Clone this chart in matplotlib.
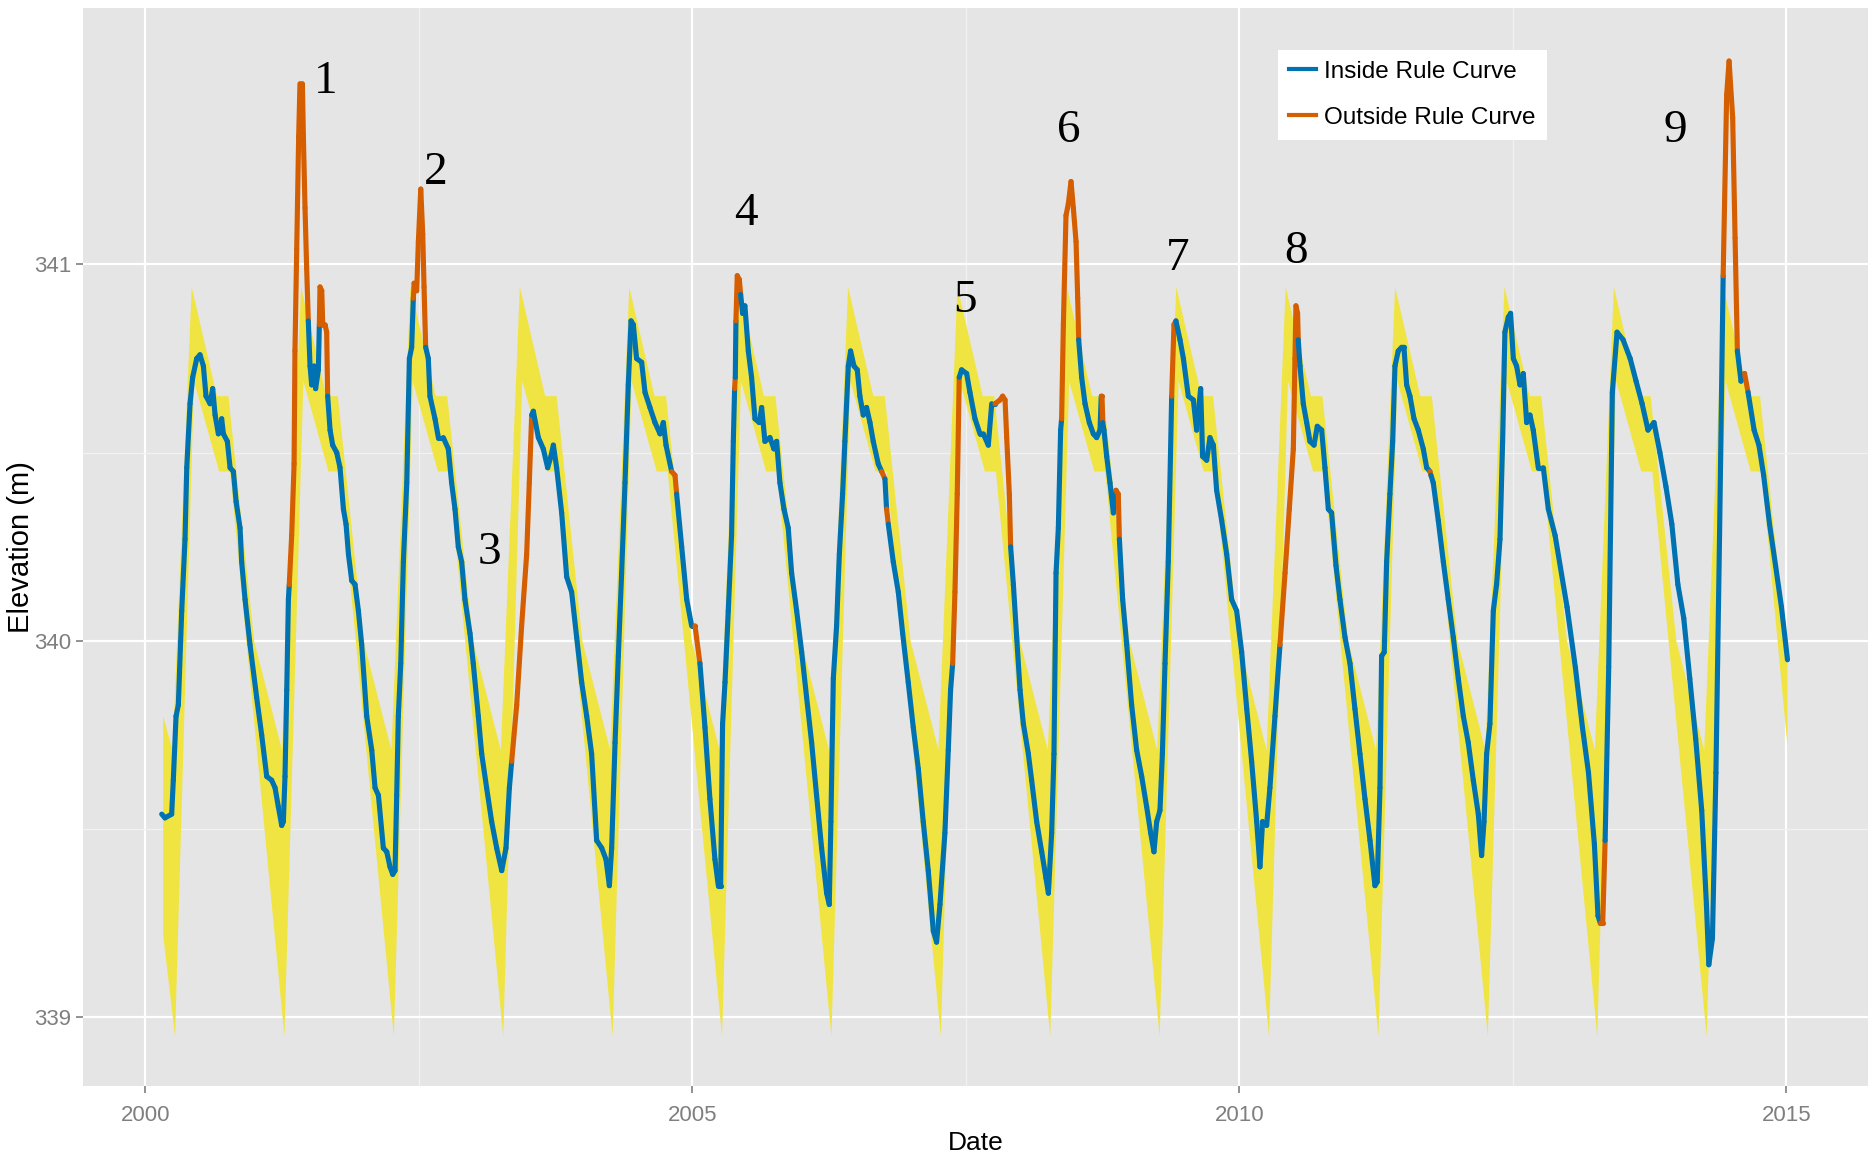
import numpy as np
import matplotlib
matplotlib.use("Agg")
import matplotlib.pyplot as plt
from matplotlib.collections import LineCollection
from matplotlib.lines import Line2D

obs_year = [
    2000.150, 2000.180, 2000.241, 2000.256, 2000.281, 2000.302, 2000.333, 2000.363, 2000.379, 2000.409,
    2000.433, 2000.470, 2000.500, 2000.531, 2000.555, 2000.592, 2000.616, 2000.638, 2000.668, 2000.698,
    2000.714, 2000.750, 2000.775, 2000.805, 2000.830, 2000.866, 2000.881, 2000.912, 2000.957, 2001.018,
    2001.064, 2001.110, 2001.155, 2001.186, 2001.216, 2001.247, 2001.262, 2001.277, 2001.293, 2001.308,
    2001.316, 2001.338, 2001.360, 2001.368, 2001.384, 2001.402, 2001.414, 2001.436, 2001.445, 2001.460,
    2001.475, 2001.490, 2001.506, 2001.521, 2001.542, 2001.557, 2001.582, 2001.591, 2001.597, 2001.613,
    2001.622, 2001.643, 2001.658, 2001.667, 2001.689, 2001.713, 2001.750, 2001.780, 2001.811, 2001.835,
    2001.857, 2001.887, 2001.917, 2001.948, 2001.978, 2002.024, 2002.070, 2002.100, 2002.131, 2002.176,
    2002.207, 2002.237, 2002.262, 2002.283, 2002.298, 2002.313, 2002.335, 2002.359, 2002.390, 2002.414,
    2002.435, 2002.450, 2002.457, 2002.481, 2002.496, 2002.518, 2002.536, 2002.548, 2002.563, 2002.587,
    2002.602, 2002.648, 2002.679, 2002.724, 2002.770, 2002.800, 2002.831, 2002.861, 2002.892, 2002.922,
    2002.968, 2002.998, 2003.044, 2003.075, 2003.120, 2003.166, 2003.212, 2003.258, 2003.297, 2003.328,
    2003.349, 2003.395, 2003.440, 2003.486, 2003.510, 2003.532, 2003.547, 2003.593, 2003.638, 2003.678,
    2003.708, 2003.730, 2003.760, 2003.806, 2003.852, 2003.897, 2003.943, 2003.989, 2004.035, 2004.080,
    2004.126, 2004.172, 2004.211, 2004.242, 2004.263, 2004.294, 2004.324, 2004.354, 2004.385, 2004.415,
    2004.440, 2004.461, 2004.491, 2004.537, 2004.568, 2004.613, 2004.659, 2004.705, 2004.735, 2004.760,
    2004.811, 2004.842, 2004.857, 2004.903, 2004.949, 2004.994, 2005.025, 2005.070, 2005.116, 2005.161,
    2005.207, 2005.238, 2005.259, 2005.277, 2005.299, 2005.329, 2005.359, 2005.375, 2005.387, 2005.393,
    2005.399, 2005.411, 2005.430, 2005.442, 2005.460, 2005.481, 2005.512, 2005.542, 2005.573, 2005.612,
    2005.634, 2005.664, 2005.710, 2005.746, 2005.771, 2005.801, 2005.838, 2005.877, 2005.908, 2005.954,
    2006.000, 2006.045, 2006.091, 2006.136, 2006.182, 2006.228, 2006.252, 2006.267, 2006.289, 2006.319,
    2006.344, 2006.374, 2006.395, 2006.426, 2006.447, 2006.478, 2006.508, 2006.532, 2006.563, 2006.593,
    2006.624, 2006.654, 2006.700, 2006.731, 2006.761, 2006.776, 2006.792, 2006.837, 2006.883, 2006.923,
    2006.974, 2007.020, 2007.066, 2007.111, 2007.157, 2007.203, 2007.233, 2007.264, 2007.309, 2007.340,
    2007.361, 2007.380, 2007.401, 2007.422, 2007.440, 2007.462, 2007.508, 2007.538, 2007.584, 2007.630,
    2007.660, 2007.706, 2007.737, 2007.767, 2007.813, 2007.837, 2007.859, 2007.874, 2007.898, 2007.910,
    2007.935, 2007.965, 2007.996, 2008.026, 2008.072, 2008.102, 2008.148, 2008.194, 2008.233, 2008.255,
    2008.285, 2008.306, 2008.325, 2008.346, 2008.367, 2008.376, 2008.392, 2008.416, 2008.437, 2008.462,
    2008.483, 2008.508, 2008.523, 2008.532, 2008.559, 2008.590, 2008.629, 2008.666, 2008.696, 2008.727,
    2008.738, 2008.745, 2008.752, 2008.763, 2008.788, 2008.818, 2008.849, 2008.873, 2008.894, 2008.904,
    2008.934, 2008.971, 2009.016, 2009.062, 2009.108, 2009.153, 2009.190, 2009.220, 2009.245, 2009.275,
    2009.297, 2009.321, 2009.351, 2009.382, 2009.403, 2009.421, 2009.458, 2009.489, 2009.534, 2009.580,
    2009.610, 2009.626, 2009.647, 2009.665, 2009.702, 2009.732, 2009.763, 2009.793, 2009.839, 2009.885,
    2009.930, 2009.976, 2010.022, 2010.068, 2010.113, 2010.159, 2010.189, 2010.213, 2010.250, 2010.280,
    2010.326, 2010.372, 2010.418, 2010.457, 2010.494, 2010.509, 2010.518, 2010.533, 2010.539, 2010.555,
    2010.585, 2010.616, 2010.646, 2010.683, 2010.713, 2010.753, 2010.783, 2010.814, 2010.844, 2010.884,
    2010.920, 2010.966, 2011.012, 2011.057, 2011.103, 2011.149, 2011.195, 2011.240, 2011.261, 2011.286,
    2011.301, 2011.325, 2011.347, 2011.377, 2011.402, 2011.423, 2011.453, 2011.484, 2011.505, 2011.530,
    2011.560, 2011.597, 2011.636, 2011.682, 2011.713, 2011.743, 2011.752, 2011.773, 2011.819, 2011.865,
    2011.910, 2011.956, 2012.002, 2012.048, 2012.093, 2012.139, 2012.185, 2012.215, 2012.237, 2012.261,
    2012.291, 2012.322, 2012.352, 2012.383, 2012.407, 2012.428, 2012.459, 2012.480, 2012.505, 2012.535,
    2012.566, 2012.596, 2012.627, 2012.657, 2012.687, 2012.733, 2012.779, 2012.825, 2012.887, 2012.996,
    2013.072, 2013.137, 2013.192, 2013.246, 2013.279, 2013.300, 2013.322, 2013.344, 2013.377, 2013.410,
    2013.453, 2013.508, 2013.573, 2013.627, 2013.682, 2013.736, 2013.791, 2013.845, 2013.900, 2013.954,
    2014.009, 2014.063, 2014.118, 2014.172, 2014.227, 2014.270, 2014.292, 2014.325, 2014.357, 2014.390,
    2014.423, 2014.455, 2014.477, 2014.510, 2014.532, 2014.553, 2014.586, 2014.619, 2014.651, 2014.706,
    2014.750, 2014.793, 2014.847, 2014.902, 2014.956, 2015.011,
]
obs_elev = [
    339.54, 339.53, 339.54, 339.63, 339.80, 339.83, 340.08, 340.27, 340.46, 340.63,
    340.70, 340.75, 340.76, 340.73, 340.65, 340.63, 340.67, 340.60, 340.55, 340.59,
    340.55, 340.53, 340.46, 340.45, 340.37, 340.30, 340.21, 340.11, 339.99, 339.85,
    339.75, 339.64, 339.63, 339.61, 339.56, 339.51, 339.52, 339.64, 339.87, 340.11,
    340.15, 340.28, 340.47, 340.77, 341.04, 341.34, 341.48, 341.48, 341.34, 341.15,
    340.99, 340.85, 340.73, 340.68, 340.73, 340.67, 340.72, 340.84, 340.94, 340.93,
    340.84, 340.84, 340.82, 340.65, 340.56, 340.52, 340.50, 340.46, 340.35, 340.31,
    340.23, 340.16, 340.15, 340.08, 339.99, 339.80, 339.71, 339.61, 339.59, 339.45,
    339.44, 339.40, 339.38, 339.39, 339.59, 339.80, 339.94, 340.21, 340.42, 340.75,
    340.78, 340.91, 340.95, 340.93, 341.06, 341.20, 341.08, 340.94, 340.78, 340.75,
    340.65, 340.59, 340.54, 340.54, 340.51, 340.42, 340.35, 340.25, 340.21, 340.11,
    340.02, 339.94, 339.80, 339.70, 339.61, 339.52, 339.45, 339.39, 339.45, 339.61,
    339.68, 339.83, 340.04, 340.23, 340.42, 340.60, 340.61, 340.54, 340.51, 340.46,
    340.49, 340.52, 340.46, 340.34, 340.17, 340.13, 340.01, 339.89, 339.80, 339.70,
    339.47, 339.45, 339.42, 339.35, 339.45, 339.73, 339.96, 340.18, 340.42, 340.68,
    340.85, 340.84, 340.75, 340.74, 340.66, 340.62, 340.58, 340.55, 340.58, 340.52,
    340.45, 340.44, 340.39, 340.25, 340.11, 340.04, 340.04, 339.94, 339.77, 339.58,
    339.42, 339.35, 339.35, 339.78, 339.89, 340.08, 340.28, 340.53, 340.67, 340.70,
    340.85, 340.97, 340.96, 340.92, 340.87, 340.89, 340.77, 340.70, 340.59, 340.58,
    340.62, 340.53, 340.54, 340.51, 340.53, 340.42, 340.35, 340.30, 340.18, 340.08,
    339.97, 339.85, 339.73, 339.59, 339.45, 339.33, 339.30, 339.52, 339.90, 340.04,
    340.23, 340.39, 340.53, 340.73, 340.77, 340.73, 340.72, 340.65, 340.60, 340.62,
    340.58, 340.53, 340.47, 340.45, 340.43, 340.35, 340.31, 340.21, 340.13, 340.02,
    339.89, 339.77, 339.66, 339.52, 339.39, 339.23, 339.20, 339.30, 339.49, 339.71,
    339.87, 339.94, 340.13, 340.39, 340.70, 340.72, 340.71, 340.66, 340.59, 340.55,
    340.55, 340.52, 340.63, 340.63, 340.64, 340.65, 340.64, 340.54, 340.39, 340.25,
    340.15, 340.01, 339.87, 339.78, 339.70, 339.63, 339.52, 339.44, 339.37, 339.33,
    339.49, 339.70, 340.18, 340.30, 340.56, 340.59, 340.84, 341.13, 341.16, 341.22,
    341.15, 341.06, 340.91, 340.80, 340.70, 340.63, 340.58, 340.55, 340.54, 340.56,
    340.65, 340.65, 340.58, 340.56, 340.49, 340.42, 340.34, 340.40, 340.39, 340.27,
    340.11, 339.99, 339.83, 339.71, 339.64, 339.56, 339.49, 339.44, 339.52, 339.55,
    339.70, 339.94, 340.21, 340.65, 340.84, 340.85, 340.80, 340.75, 340.65, 340.64,
    340.56, 340.61, 340.67, 340.49, 340.48, 340.54, 340.52, 340.40, 340.32, 340.23,
    340.11, 340.08, 339.97, 339.82, 339.68, 339.52, 339.40, 339.52, 339.51, 339.61,
    339.80, 339.99, 340.18, 340.35, 340.51, 340.75, 340.89, 340.87, 340.80, 340.73,
    340.63, 340.58, 340.53, 340.52, 340.57, 340.56, 340.46, 340.35, 340.34, 340.20,
    340.11, 340.01, 339.94, 339.82, 339.70, 339.58, 339.47, 339.35, 339.36, 339.61,
    339.96, 339.97, 340.21, 340.39, 340.53, 340.73, 340.77, 340.78, 340.78, 340.68,
    340.65, 340.59, 340.56, 340.51, 340.46, 340.45, 340.44, 340.42, 340.32, 340.21,
    340.11, 340.01, 339.90, 339.80, 339.73, 339.63, 339.54, 339.43, 339.52, 339.70,
    339.78, 340.08, 340.15, 340.27, 340.53, 340.82, 340.86, 340.87, 340.75, 340.73,
    340.68, 340.71, 340.58, 340.60, 340.56, 340.46, 340.46, 340.35, 340.28, 340.09,
    339.93, 339.77, 339.65, 339.46, 339.27, 339.25, 339.25, 339.47, 339.93, 340.66,
    340.82, 340.80, 340.75, 340.69, 340.63, 340.56, 340.58, 340.50, 340.41, 340.31,
    340.15, 340.06, 339.90, 339.74, 339.55, 339.30, 339.14, 339.21, 339.65, 340.28,
    340.97, 341.45, 341.54, 341.39, 341.07, 340.77, 340.69, 340.71, 340.66, 340.56,
    340.52, 340.44, 340.31, 340.20, 340.09, 339.95,
]

# Periods where the level is outside the rule curve (start, end)
outside_spans = [
    (2001.316, 2001.490), (2001.591, 2001.667), (2002.450, 2002.563), (2003.349, 2003.532),
    (2004.811, 2004.857), (2005.025, 2005.070), (2005.387, 2005.393), (2005.399, 2005.442),
    (2006.731, 2006.761), (2006.776, 2006.792), (2007.380, 2007.440), (2007.767, 2007.910),
    (2008.376, 2008.532), (2008.738, 2008.752), (2008.873, 2008.904), (2009.382, 2009.421),
    (2010.372, 2010.539), (2011.743, 2011.752), (2013.300, 2013.344), (2014.423, 2014.553),
    (2014.619, 2014.651),
]

# Annual rule curve band (fraction of year, elevation m)
rule_upper_t = [0.250, 0.424, 0.655, 0.760, 0.995]
rule_upper_e = [339.71, 340.94, 340.65, 340.65, 340.00]
rule_lower_t = [0.272, 0.445, 0.675, 0.775]
rule_lower_e = [338.95, 340.69, 340.45, 340.45]
rule_years = list(range(2000, 2015))
band_start = (2000.163, 339.80, 339.22)   # year, upper, lower
band_end = (2015.011, 339.98, 339.72)

# Violation labels
label_text = ["1", "2", "3", "4", "5", "6", "7", "8", "9"]
label_year = [2001.645, 2002.658, 2003.148, 2005.490, 2007.495, 2008.442, 2009.434, 2010.523, 2013.987]
label_elev = [341.484, 341.244, 340.234, 341.134, 340.904, 341.354, 341.014, 341.034, 341.354]

BLUE = "#0072B2"
ORANGE = "#D55E00"
YELLOW = "#F0E442"

plt.rcParams['font.family'] = ['Liberation Sans', 'DejaVu Sans']

fig = plt.figure(figsize=(18.68, 11.58), dpi=100)
ax = fig.add_axes([0.0444, 0.0622, 0.9556, 0.9309])
ax.set_facecolor("#E5E5E5")
for s in ax.spines.values():
    s.set_visible(False)

# rule curve band polygon
up_x, up_y = [band_start[0]], [band_start[1]]
lo_x, lo_y = [band_start[0]], [band_start[2]]
for yr in rule_years:
    for t, e in zip(rule_upper_t, rule_upper_e):
        if band_start[0] < yr + t < band_end[0]:
            up_x.append(yr + t)
            up_y.append(e)
    for t, e in zip(rule_lower_t, rule_lower_e):
        if band_start[0] < yr + t < band_end[0]:
            lo_x.append(yr + t)
            lo_y.append(e)
up_x.append(band_end[0]); up_y.append(band_end[1])
lo_x.append(band_end[0]); lo_y.append(band_end[2])
ax.fill(up_x + lo_x[::-1], up_y + lo_y[::-1], color=YELLOW, lw=0, zorder=2)

# observed series coloured by inside / outside
x = np.array(obs_year)
y = np.array(obs_elev)
out = np.zeros(len(x), dtype=bool)
for a, b in outside_spans:
    out |= (x >= a - 1e-6) & (x < b - 1e-6)
pts = np.column_stack([x, y])
segs = np.stack([pts[:-1], pts[1:]], axis=1)
cols = [ORANGE if o else BLUE for o in out[:-1]]
lc = LineCollection(segs, colors=cols, linewidths=3.7, capstyle="round", joinstyle="round", zorder=3)
ax.add_collection(lc)

for t, lx, ly in zip(label_text, label_year, label_elev):
    ax.text(lx, ly, t, ha="center", va="center", fontsize=34, family="Liberation Serif", zorder=4)

ax.set_xlim(1999.43, 2015.747)
ax.set_ylim(338.818, 341.681)
ax.set_xticks([2000, 2005, 2010, 2015])
ax.set_xticks([2002.5, 2007.5, 2012.5], minor=True)
ax.set_yticks([339, 340, 341])
ax.set_yticks([339.5, 340.5], minor=True)
ax.grid(which="major", color="white", lw=1.6, zorder=0)
ax.grid(which="minor", color="#F2F2F2", lw=0.9, zorder=0)
ax.set_axisbelow(True)
ax.tick_params(which="major", length=5, width=1.2, color="#7F7F7F", labelcolor="#7F7F7F", labelsize=16)
ax.tick_params(axis="x", which="major", pad=9)
ax.tick_params(which="minor", length=0)
ax.set_xlabel("Date", fontsize=19, labelpad=3)
ax.set_ylabel("Elevation (m)", fontsize=21, ha="center", va="center")
ax.yaxis.set_label_coords(-0.0345, 0.5)

handles = [Line2D([], [], color=BLUE, lw=3), Line2D([], [], color=ORANGE, lw=3)]
leg = ax.legend(handles, ["Inside Rule Curve", "Outside Rule Curve"], loc="upper left",
                bbox_to_anchor=(0.6695, 0.961), borderaxespad=0, fontsize=17.5,
                frameon=True, fancybox=False, framealpha=1, edgecolor="white",
                handlelength=1.1, handletextpad=0.35, borderpad=0.45, labelspacing=0.97)
leg.get_frame().set_linewidth(0)

fig.savefig("out.png", dpi=100)
